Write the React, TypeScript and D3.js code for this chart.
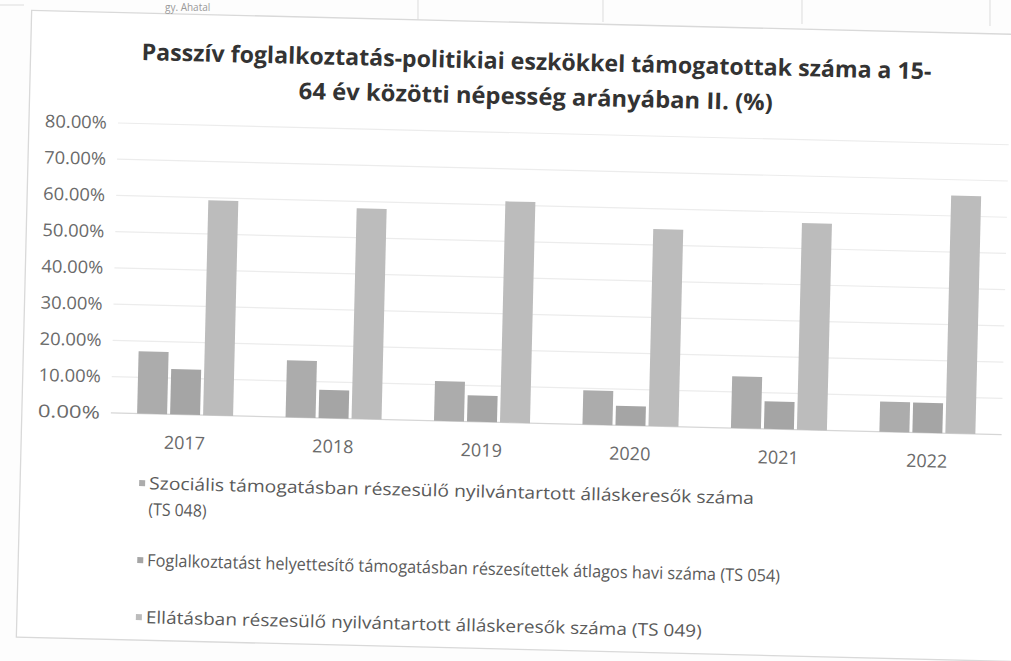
import React from 'react';
import * as d3 from 'd3';

// years on the x axis
const years = ['2017', '2018', '2019', '2020', '2021', '2022'];

// shares of the 15-64 population (%)
const szocialis = [17.2, 15.7, 11.0, 9.4, 14.3, 8.3];
const foglalkoztatast = [12.5, 7.8, 7.3, 5.4, 7.6, 8.3];
const ellatasban = [59.3, 58.1, 61.0, 54.4, 57.0, 65.6];

const yTicks = [0, 10, 20, 30, 40, 50, 60, 70, 80];

const seriesNames = [
  'Szociális támogatásban részesülő nyilvántartott álláskeresők száma',
  'Foglalkoztatást helyettesítő támogatásban részesítettek átlagos havi száma (TS 054)',
  'Ellátásban részesülő nyilvántartott álláskeresők száma (TS 049)',
];

const titleLines = [
  'Passzív foglalkoztatás-politikiai eszkökkel támogatottak száma a 15-',
  '64 év közötti népesség  arányában II. (%)',
];

const W = 1011;
const H = 661;
const font = '"Open Sans", "Liberation Sans", sans-serif';

export default function App() {
  const series = [szocialis, foglalkoztatast, ellatasban];
  const colors = ['#acacac', '#a5a5a5', '#bcbcbc'];

  const x = d3.scaleBand().domain(years).range([113, 1004]);
  const y = d3.scaleLinear().domain([0, 80]).range([422.5, 132.5]);

  const barW = 30;
  const gap = 3;
  const groupW = barW * 3 + gap * 2;
  const fmt = (v: number) => d3.format('.2f')(v) + '%';

  // legend rows: text, baseline, textLength, has marker
  const legendRows: [string, number, number, boolean][] = [
    [seriesNames[0], 498, 605, true],
    ['(TS 048)', 524, 58, false],
    [seriesNames[1], 575, 633, true],
    [seriesNames[2], 632, 556, true],
  ];
  let idx = 0;

  return (
    <div style={{ position: 'absolute', left: 0, top: 0 }}>
      <svg width={W} height={H} style={{ display: 'block', background: '#fdfdfd' }}>
        {/* table fragment above the chart (page scan) */}
        <g stroke="#e2e2e2" strokeWidth={1.2}>
          <line x1={0} x2={24} y1={5} y2={5} />
          <line x1={418} x2={418} y1={0} y2={20} />
          <line x1={603} x2={603} y1={0} y2={22} />
          <line x1={802} x2={802} y1={0} y2={24} />
          <line x1={990} x2={990} y1={0} y2={26} />
        </g>

        <g transform="rotate(1.4, 505, 330)">
          {/* chart frame */}
          <rect x={24} y={22} width={1100} height={627} fill="#fff" stroke="#d9d9d9" strokeWidth={1.3} />

          {/* title */}
          {titleLines.map((t, i) => (
            <text key={t} x={530} y={i === 0 ? 69 : 104} textAnchor="middle"
              fontFamily={font} fontWeight={700} fontSize={23} fill="#333"
              textLength={i === 0 ? 790 : 474} lengthAdjust="spacingAndGlyphs">
              {t}
            </text>
          ))}

          {/* gridlines + y labels */}
          {yTicks.map(t => (
            <g key={t}>
              <line x1={x.range()[0]} x2={x.range()[1]} y1={y(t)} y2={y(t)}
                stroke={t === 0 ? '#d6d6d6' : '#ececec'} strokeWidth={1.2} />
              <text x={102} y={y(t) + 6} textAnchor="end" fontFamily={font}
                fontSize={17.5} fill="#6a6a6a" textLength={62}
                lengthAdjust="spacingAndGlyphs">{fmt(t)}</text>
            </g>
          ))}

          {/* bars */}
          {years.map((yr, i) => {
            const cx = (x(yr) as number) + x.bandwidth() / 2;
            return (
              <g key={yr}>
                {series.map((s, j) => (
                  <rect key={j} x={cx - groupW / 2 + j * (barW + gap)} y={y(s[i])}
                    width={barW} height={y(0) - y(s[i])} fill={colors[j]} />
                ))}
                <text x={cx} y={457} textAnchor="middle" fontFamily={font}
                  fontSize={18} fill="#6a6a6a">{yr}</text>
              </g>
            );
          })}

          {/* legend */}
          {legendRows.map(([t, ly, len, marker]) => {
            const c = marker ? colors[idx++] : '';
            return (
              <g key={t}>
                {marker && <rect x={143} y={ly - 9} width={6} height={6} fill={c} />}
                <text x={153} y={ly} fontFamily={font} fontSize={17} fill="#5a5a5a"
                  textLength={len} lengthAdjust="spacingAndGlyphs">{t}</text>
              </g>
            );
          })}
        </g>

        <text x={165} y={11} fontFamily={font} fontSize={10} fill="#999">gy. Ahatal</text>
      </svg>
    </div>
  );
}
